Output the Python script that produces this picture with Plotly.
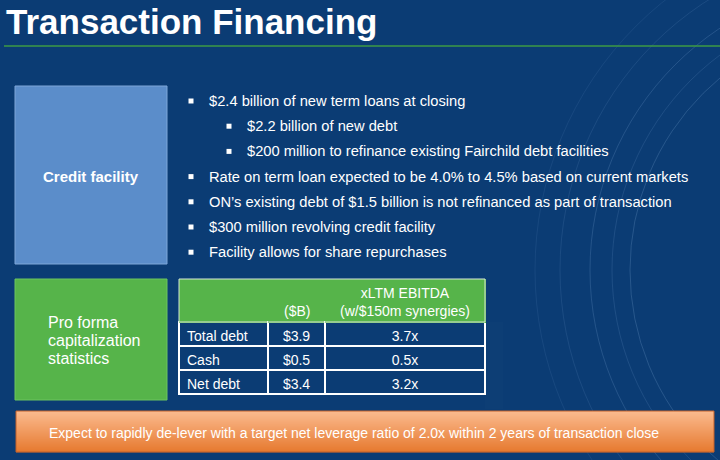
import plotly.graph_objects as go

# ---------------- data ----------------
title_text = "Transaction Financing"
credit_label = "Credit facility"
proforma_lines = ["Pro forma", "capitalization", "statistics"]
bullet_texts = [
    "$2.4 billion of new term loans at closing",
    "$2.2 billion of new debt",
    "$200 million to refinance existing Fairchild debt facilities",
    "Rate on term loan expected to be 4.0% to 4.5% based on current markets",
    "ON\u2019s existing debt of $1.5 billion is not refinanced as part of transaction",
    "$300 million revolving credit facility",
    "Facility allows for share repurchases",
]
bullet_levels = [0, 1, 1, 0, 0, 0, 0]
table_header = ["", "($B)", "xLTM EBITDA<br>(w/$150m synergies)"]
table_labels = ["Total debt", "Cash", "Net debt"]
table_bn = ["$3.9", "$0.5", "$3.4"]
table_mult = ["3.7x", "0.5x", "3.2x"]
footer_text = "Expect to rapidly de-lever with a target net leverage ratio of 2.0x within 2 years of transaction close"

# ---------------- styles ----------------
W, H = 720, 460
BG = "#0b3c74"
GREEN = "#56b44a"
BLUE_BOX = "#5b8dca"
FONT = "Liberation Sans, Arial, sans-serif"

fig = go.Figure()

shapes = []
annotations = []

# faint decorative arcs (background circuit look)
for r, op in [(250, 0.22), (268, 0.15), (290, 0.2), (320, 0.13), (345, 0.1)]:
    cx, cy = 880, 270
    shapes.append(dict(type="circle", xref="x", yref="y", x0=cx - r, x1=cx + r, y0=cy - r, y1=cy + r,
                       line=dict(color=f"rgba(140,180,225,{op})", width=1), layer="below"))

# title rule
shapes.append(dict(type="line", xref="x", yref="y", x0=4, x1=720, y0=46, y1=46,
                   line=dict(color="#3e9a45", width=1.5)))

# credit facility box
shapes.append(dict(type="rect", xref="x", yref="y", x0=15, x1=167, y0=86, y1=264,
                   fillcolor=BLUE_BOX, line=dict(color="#7ea6d8", width=1)))
# pro forma box
shapes.append(dict(type="rect", xref="x", yref="y", x0=15, x1=167, y0=279, y1=400,
                   fillcolor=GREEN, line=dict(color="#6cc45f", width=1)))

# footer orange bar: vertical gradient from light peach (top) to deep orange (bottom)
fy0, fy1 = 411, 452
top_rgb, bot_rgb = (251, 186, 142), (230, 122, 48)
n = fy1 - fy0
for k in range(n):
    t = k / (n - 1)
    c = tuple(round(a + (b - a) * t) for a, b in zip(top_rgb, bot_rgb))
    shapes.append(dict(type="rect", xref="x", yref="y", x0=16, x1=714, y0=fy0 + k, y1=fy0 + k + 1.2,
                       fillcolor=f"rgb{c}", line=dict(width=0)))
shapes.append(dict(type="rect", xref="x", yref="y", x0=16, x1=714, y0=fy0, y1=fy1,
                   fillcolor="rgba(0,0,0,0)", line=dict(color="#c2602a", width=1)))

# table geometry
tx0, tx1, ty0 = 179, 485, 279
col_w = [89, 57, 160]
head_h, cell_h = 43, 24

# light outline round the green header row
shapes.append(dict(type="rect", xref="x", yref="y", x0=tx0, x1=tx1, y0=ty0, y1=ty0 + head_h,
                   fillcolor="rgba(0,0,0,0)", line=dict(color="#d6e6d2", width=1), layer="above"))

fig.update_layout(shapes=shapes)

# title
annotations.append(dict(x=4, y=21, xref="x", yref="y", text=f"<b>{title_text}</b>", showarrow=False,
                        xanchor="left", yanchor="middle",
                        font=dict(family=FONT, size=35, color="white")))
annotations.append(dict(x=91, y=176, xref="x", yref="y", text=f"<b>{credit_label}</b>", showarrow=False,
                        xanchor="center", yanchor="middle",
                        font=dict(family=FONT, size=15, color="white")))
for i, line in enumerate(proforma_lines):
    annotations.append(dict(x=46, y=322 + i * 18, xref="x", yref="y", text=line, showarrow=False,
                            xanchor="left", yanchor="middle",
                            font=dict(family=FONT, size=16, color="white")))

# bullets
row_y0, row_dy = 101, 25.2
bx, by = [], []
for i, (t, lvl) in enumerate(zip(bullet_texts, bullet_levels)):
    y = row_y0 + i * row_dy
    bxp = 191 + lvl * 38
    bx.append(bxp)
    by.append(y)
    annotations.append(dict(x=bxp + 16, y=y, xref="x", yref="y", text=t, showarrow=False,
                            xanchor="left", yanchor="middle",
                            font=dict(family=FONT, size=14.7, color="white")))
fig.add_trace(go.Scatter(x=bx, y=by, mode="markers", hoverinfo="skip",
                         marker=dict(symbol="square", size=5, color="white", line=dict(width=0))))

annotations.append(dict(x=47, y=433, xref="x", yref="y", text=footer_text, showarrow=False,
                        xanchor="left", yanchor="middle",
                        font=dict(family=FONT, size=14, color="white")))

# table
fig.add_trace(go.Table(
    domain=dict(x=[tx0 / W, tx1 / W], y=[1 - 410 / H, 1 - ty0 / H]),
    columnwidth=col_w,
    header=dict(values=["", "", ""], fill_color=GREEN, line_color=GREEN, height=head_h,
                font=dict(family=FONT, size=6, color="white")),
    cells=dict(values=[table_labels, table_bn, table_mult], fill_color=BG,
               line=dict(color="white", width=1.5), height=cell_h,
               align=["left", "center", "center"],
               font=dict(family=FONT, size=14, color="white")),
))
# header labels placed at column centres, bottom-aligned like the slide
scale = (tx1 - tx0) / sum(col_w)
left = tx0
for w, lab in zip(col_w, table_header):
    cx = left + w * scale / 2
    left += w * scale
    if lab:
        annotations.append(dict(x=cx, y=ty0 + head_h - 1, xref="x", yref="y", text=lab, showarrow=False,
                                xanchor="center", yanchor="bottom", align="center",
                                font=dict(family=FONT, size=14, color="white")))

fig.update_layout(
    width=W, height=H, margin=dict(l=0, r=0, t=0, b=0),
    paper_bgcolor=BG, plot_bgcolor=BG, showlegend=False,
    xaxis=dict(range=[0, W], visible=False, fixedrange=True),
    yaxis=dict(range=[H, 0], visible=False, fixedrange=True),
    annotations=annotations,
)
fig.write_html("out.html", config={"displayModeBar": False},
               post_script="document.body.style.margin='0';document.body.style.overflow='hidden';")
